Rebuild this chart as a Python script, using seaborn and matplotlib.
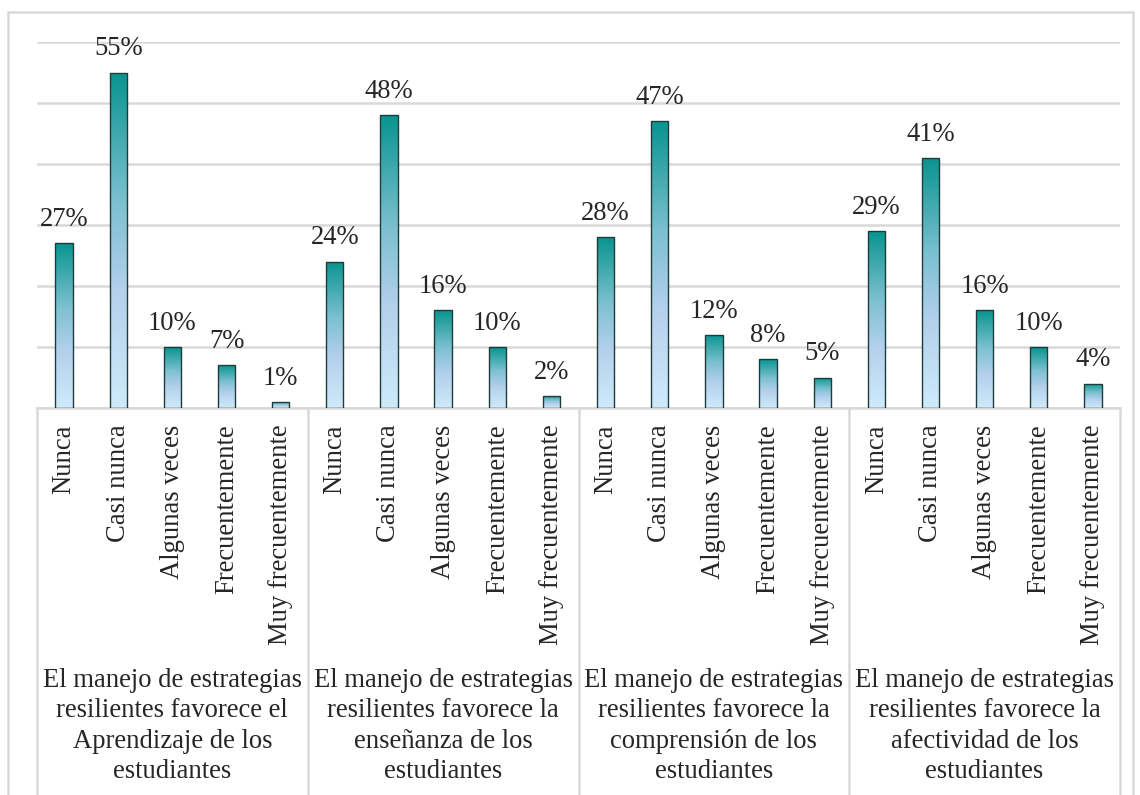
import numpy as np
import pandas as pd
import matplotlib
matplotlib.use("Agg")
import matplotlib.pyplot as plt
import matplotlib.transforms as mtransforms
from matplotlib.colors import LinearSegmentedColormap
from matplotlib.patches import Rectangle
import seaborn as sns

# data (percent)
categorias = ["Nunca", "Casi nunca", "Algunas veces", "Frecuentemente", "Muy frecuentemente"]
grupos = [
    "El manejo de estrategias\nresilientes favorece el\nAprendizaje de los\nestudiantes",
    "El manejo de estrategias\nresilientes favorece la\nenseñanza de los\nestudiantes",
    "El manejo de estrategias\nresilientes favorece la\ncomprensión de los\nestudiantes",
    "El manejo de estrategias\nresilientes favorece la\nafectividad de los\nestudiantes",
]
aprendizaje = [27, 55, 10, 7, 1]
ensenanza = [24, 48, 16, 10, 2]
comprension = [28, 47, 12, 8, 5]
afectividad = [29, 41, 16, 10, 4]

valores = [aprendizaje, ensenanza, comprension, afectividad]
rows = []
for gi, vals in enumerate(valores):
    for cat, v in zip(categorias, vals):
        rows.append({"slot": f"{gi}-{cat}", "categoria": cat, "valor": v})
df = pd.DataFrame(rows)

W, H = 1140, 795
GRID = "#D9D9D9"
FS = 19.2

sns.set_style("white")
plt.rcParams["font.family"] = ["Liberation Serif", "DejaVu Serif"]

fig = plt.figure(figsize=(W / 100, H / 100), dpi=100)
x0, x1, ybase, ytop = 37, 1120, 408, 42
ax = fig.add_axes([x0 / W, 1 - ybase / H, (x1 - x0) / W, (ybase - ytop) / H])

sns.barplot(data=df, x="slot", y="valor", order=list(df["slot"]), width=0.32,
            color="white", ax=ax, errorbar=None)

# vertical gradient inside each bar: teal at top -> pale blue at bottom
cmap = LinearSegmentedColormap.from_list(
    "grad", [(0.0, "#CDEBFB"), (0.35, "#B3D0EC"), (0.62, "#7BC0CF"), (1.0, "#08948F")])
grad = np.linspace(0, 1, 256).reshape(-1, 1)
for p in ax.patches:
    bx, by, bw, bh = p.get_x(), p.get_y(), p.get_width(), p.get_height()
    im = ax.imshow(grad, cmap=cmap, origin="lower", aspect="auto",
                   extent=(bx, bx + bw, by, by + bh), zorder=p.get_zorder())
    im.set_clip_path(p)
    p.set_facecolor("none")
    p.set_edgecolor("#1F3B3B")
    p.set_linewidth(1.0)
    p.set_zorder(3)

ax.set_xlim(-0.5, len(df) - 0.5)
ax.set_ylim(0, 60)
ax.set_yticks(range(0, 61, 10))
ax.set_yticklabels([])
ax.yaxis.grid(True, color=GRID, lw=1.8)
ax.set_axisbelow(True)
ax.tick_params(axis="y", length=0)
for s in ["top", "left", "right"]:
    ax.spines[s].set_visible(False)
ax.spines["bottom"].set_color(GRID)
ax.spines["bottom"].set_linewidth(1.8)
ax.set_xlabel("")
ax.set_ylabel("")

ax.set_xticks(range(len(df)))
ax.set_xticklabels(df["categoria"], rotation=90, fontsize=FS)
ax.tick_params(axis="x", length=0, pad=12)

# value labels
for i, v in enumerate(df["valor"]):
    ax.annotate(f"{v}%", (i, v), xytext=(0, 8), textcoords="offset points",
                ha="center", va="bottom", fontsize=FS, annotation_clip=False)

# separators of the category table
for b in [-0.5, 4.5, 9.5, 14.5, 19.5]:
    ax.plot([b, b], [0, -100], color=GRID, lw=1.8, clip_on=False)

# group labels
trans = mtransforms.blended_transform_factory(ax.transData, fig.transFigure)
for gi, txt in enumerate(grupos):
    fig.text(gi * 5 + 2, 1 - 668 / H, txt, transform=trans, ha="center", va="top",
             fontsize=FS, linespacing=1.28, multialignment="center")

# chart outer border
fig.add_artist(Rectangle((8 / W, -0.02), (1133 - 8) / W, 1.02 - 12 / H,
                         transform=fig.transFigure, fill=False, ec=GRID, lw=1.8))

fig.savefig("out.png", dpi=100)
